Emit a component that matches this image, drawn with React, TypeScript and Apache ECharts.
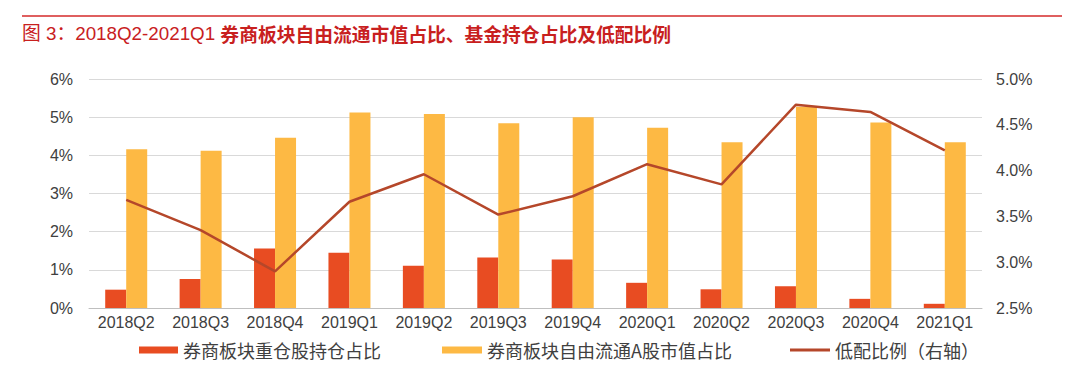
import React, { useEffect, useRef } from "react";
import * as echarts from "echarts";

const categories = ["2018Q2", "2018Q3", "2018Q4", "2019Q1", "2019Q2", "2019Q3", "2019Q4", "2020Q1", "2020Q2", "2020Q3", "2020Q4", "2021Q1"];
const heavyHolding = [0.48, 0.76, 1.56, 1.45, 1.11, 1.32, 1.27, 0.66, 0.49, 0.57, 0.24, 0.11];
const freeFloat = [4.16, 4.12, 4.46, 5.12, 5.08, 4.84, 5.0, 4.72, 4.34, 5.27, 4.86, 4.34];
const underweight = [3.68, 3.35, 2.9, 3.66, 3.96, 3.52, 3.72, 4.07, 3.85, 4.72, 4.64, 4.22];
const leftTicks = { min: 0, max: 6, interval: 1 };
const rightTicks = { min: 2.5, max: 5, interval: 0.5 };

const names = ["券商板块重仓股持仓占比", "券商板块自由流通A股市值占比", "低配比例（右轴）"];
const FONT = "'Liberation Sans', Arial, 'Noto Sans CJK SC', sans-serif";
const CJK = "'Noto Sans CJK SC', 'Liberation Sans', sans-serif";

export default function App() {
  const ref = useRef<HTMLDivElement>(null);
  useEffect(() => {
    document.body.style.margin = "0";
    const chart = echarts.init(ref.current!, null, { renderer: "svg" });
    const legendText = { fontSize: 18, color: "#404040", fontFamily: CJK };
    chart.setOption({
      animation: false,
      backgroundColor: "#fff",
      textStyle: { fontFamily: FONT },
      graphic: [
        { type: "line", shape: { x1: 22, y1: 16, x2: 1062, y2: 16 }, style: { stroke: "#D42A2A", lineWidth: 1.5 } },
        {
          type: "text",
          left: 22,
          top: 24,
          style: {
            text: "{a|图 3：2018Q2-2021Q1 }{b|券商板块自由流通市值占比、基金持仓占比及低配比例}",
            rich: {
              a: { fontSize: 18.8, fill: "#C8201E", fontFamily: FONT, fontWeight: "normal" },
              b: { fontSize: 18.8, fill: "#C8201E", fontFamily: CJK, fontWeight: "bold" },
            },
          },
        },
      ],
      legend: [
        { data: [names[0]], left: 134, top: 336, itemWidth: 39, itemHeight: 7, icon: "rect", textStyle: legendText },
        { data: [names[1]], left: 437, top: 336, itemWidth: 40, itemHeight: 7, icon: "rect", textStyle: legendText },
        { data: [{ name: names[2], icon: "rect" }], left: 785, top: 336, itemWidth: 40, itemHeight: 3, textStyle: legendText },
      ],
      grid: { left: 89, right: 98, top: 79, bottom: 73 },
      xAxis: {
        type: "category",
        data: categories,
        axisTick: { show: false },
        axisLine: { lineStyle: { color: "#BFBFBF" } },
        axisLabel: { fontSize: 16, color: "#404040", margin: 6, fontFamily: FONT },
      },
      yAxis: [
        {
          type: "value",
          ...leftTicks,
          axisLabel: { formatter: "{value}%", fontSize: 16, color: "#404040", margin: 16, fontFamily: FONT },
          splitLine: { lineStyle: { color: "#D9D9D9" } },
          axisLine: { show: false },
          axisTick: { show: false },
        },
        {
          type: "value",
          ...rightTicks,
          axisLabel: { formatter: (v: number) => v.toFixed(1) + "%", fontSize: 16, color: "#404040", margin: 14, fontFamily: FONT },
          splitLine: { show: false },
          axisLine: { show: false },
          axisTick: { show: false },
        },
      ],
      series: [
        { name: names[0], type: "bar", data: heavyHolding, barWidth: 21, barGap: "0%", itemStyle: { color: "#E84C22" } },
        { name: names[1], type: "bar", data: freeFloat, barWidth: 21, barGap: "0%", itemStyle: { color: "#FDB944" } },
        {
          name: names[2],
          type: "line",
          yAxisIndex: 1,
          data: underweight,
          symbol: "none",
          lineStyle: { color: "#B5472A", width: 2.5 },
          itemStyle: { color: "#B5472A" },
        },
      ],
    });
    return () => chart.dispose();
  }, []);
  return <div ref={ref} style={{ width: 1080, height: 381 }} />;
}
